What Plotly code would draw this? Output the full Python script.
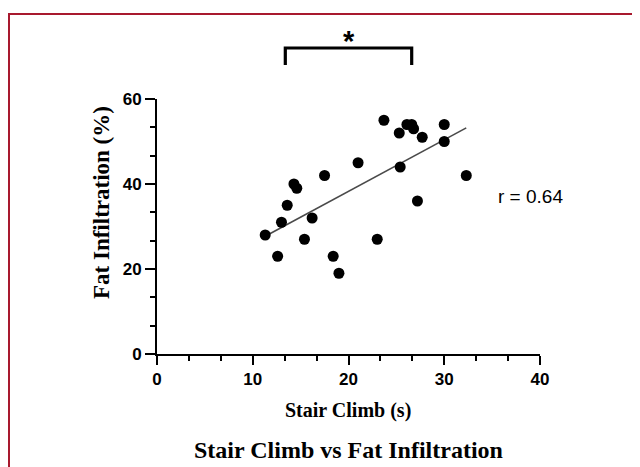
import numpy as np
import plotly.graph_objects as go

# Data
stair_climb_s = [23.7, 26.1, 26.6, 25.3, 26.8, 27.7, 30.0, 30.0, 21.0, 25.4, 32.3, 17.5,
                 14.3, 14.6, 13.6, 27.2, 13.0, 16.2, 11.3, 12.6, 15.4, 23.0, 18.4, 19.0]
fat_infiltration_pct = [55, 54, 54, 52, 53, 51, 54, 50, 45, 44, 42, 42,
                        40, 39, 35, 36, 31, 32, 28, 23, 27, 27, 23, 19]
x_ticks = [0, 10, 20, 30, 40]
y_ticks = [0, 20, 40, 60]
r_label = "r = 0.64"
bracket_span = [13.4, 26.6]   # x-extent (s) of the significance bracket
title_text = "Stair Climb vs Fat Infiltration"
x_title = "Stair Climb (s)"
y_title = "Fat Infiltration (%)"

X_RANGE = [0, 40]
Y_RANGE = [0, 60]

x = np.array(stair_climb_s, dtype=float)
y = np.array(fat_infiltration_pct, dtype=float)
slope, intercept = np.polyfit(x, y, 1)
fit_x = np.array([x.min(), x.max()])
fit_y = slope * fit_x + intercept

# page body adds an 8px offset; lay out in screen pixels and compensate
OFF = 8
W, H = 640 - OFF, 467 - OFF
ML, MR, MT, MB = 157 - OFF, 100, 99 - OFF, 113
PW, PH = W - ML - MR, H - MT - MB


def px_x(p):
    return (p - OFF - ML) / PW


def px_y(p):
    return (H - MB - (p - OFF)) / PH


def dx_paper(v):
    return (v - X_RANGE[0]) / (X_RANGE[1] - X_RANGE[0])


fig = go.Figure()
fig.add_trace(go.Scatter(x=fit_x, y=fit_y, mode="lines",
                         line=dict(color="#4a4a4a", width=1.6), hoverinfo="skip"))
fig.add_trace(go.Scatter(x=stair_climb_s, y=fat_infiltration_pct, mode="markers",
                         marker=dict(color="black", size=11)))

sans_bold = dict(family="Liberation Sans, Arial, sans-serif", size=17, color="black", weight="bold")
serif_bold = "Liberation Serif, Times New Roman, serif"

fig.update_xaxes(range=X_RANGE, tickvals=x_ticks, showgrid=False, zeroline=False,
                 showline=True, linecolor="black", linewidth=2,
                 ticks="outside", ticklen=9, tickwidth=2, tickcolor="black",
                 tickfont=sans_bold,
                 minor=dict(dtick=10 / 3, tick0=0, ticks="outside", ticklen=5,
                            tickwidth=2, tickcolor="black", showgrid=False))
fig.update_yaxes(range=Y_RANGE, tickvals=y_ticks, showgrid=False, zeroline=False,
                 showline=True, linecolor="black", linewidth=2,
                 ticks="outside", ticklen=10, tickwidth=2, tickcolor="black",
                 tickfont=sans_bold,
                 minor=dict(dtick=20 / 3, tick0=0, ticks="outside", ticklen=5,
                            tickwidth=2, tickcolor="black", showgrid=False))

shapes = []
# red frame (left and top edges)
shapes.append(dict(type="path", xref="paper", yref="paper",
                   path=f"M {px_x(9)},{px_y(480)} L {px_x(9)},{px_y(14)} L {px_x(660)},{px_y(14)}",
                   line=dict(color="#a8192e", width=2)))
# significance bracket
bx0, bx1 = dx_paper(bracket_span[0]), dx_paper(bracket_span[1])
shapes.append(dict(type="path", xref="paper", yref="paper",
                   path=f"M {bx0},{px_y(65)} L {bx0},{px_y(48)} L {bx1},{px_y(48)} L {bx1},{px_y(65)}",
                   line=dict(color="black", width=3.2)))

annotations = [
    dict(text="*", xref="paper", yref="paper", x=dx_paper(sum(bracket_span) / 2), y=px_y(41),
         showarrow=False, xanchor="center", yanchor="middle",
         font=dict(family="Liberation Sans, Arial, sans-serif", size=29, color="black", weight="bold")),
    dict(text=r_label, xref="x", yref="y", x=35.4, y=37, showarrow=False,
         xanchor="left", yanchor="middle",
         font=dict(family="Liberation Sans, Arial, sans-serif", size=19, color="black")),
    dict(text=x_title, xref="paper", yref="paper", x=px_x(348), y=px_y(410), showarrow=False,
         xanchor="center", yanchor="middle",
         font=dict(family=serif_bold, size=20, color="black", weight="bold")),
    dict(text=y_title, xref="paper", yref="paper", x=px_x(101), y=px_y(203), showarrow=False,
         xanchor="center", yanchor="middle", textangle=-90,
         font=dict(family=serif_bold, size=23, color="black", weight="bold")),
    dict(text=title_text, xref="paper", yref="paper", x=px_x(348), y=px_y(450), showarrow=False,
         xanchor="center", yanchor="middle",
         font=dict(family=serif_bold, size=24, color="black", weight="bold")),
]

fig.update_layout(width=W, height=H, margin=dict(l=ML, r=MR, t=MT, b=MB),
                  paper_bgcolor="white", plot_bgcolor="white", showlegend=False,
                  shapes=shapes, annotations=annotations)

fig.write_html("out.html")
